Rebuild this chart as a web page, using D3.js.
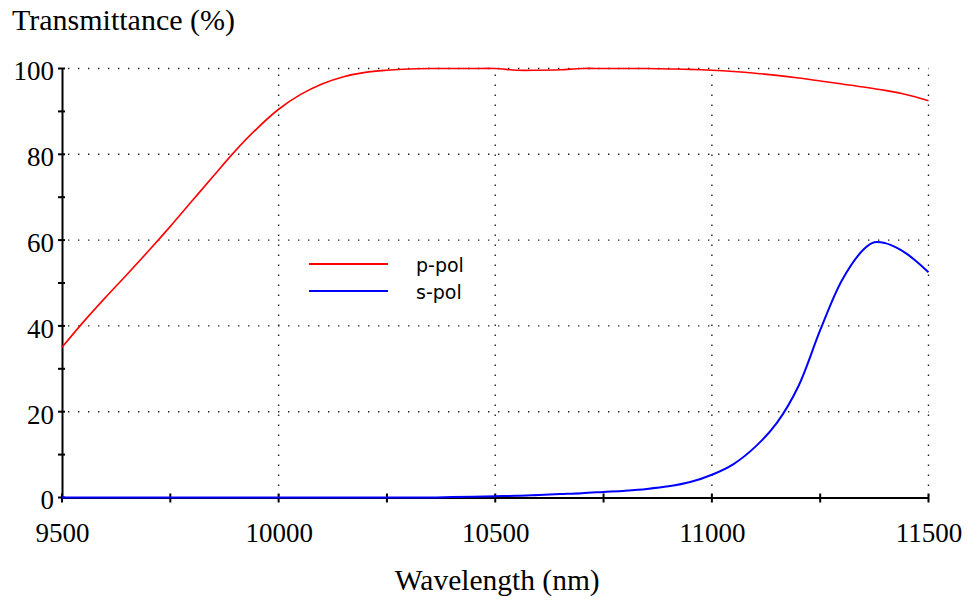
<!DOCTYPE html>
<html><head><meta charset="utf-8">
<script src="https://cdn.jsdelivr.net/npm/d3@7"></script>
<style>
html,body{margin:0;padding:0;background:#fff;}
svg{display:block;}
</style></head>
<body><svg id="c" width="971" height="601"></svg>
<script>
// ---- data ----
const pWavelengths = [9500,9550,9600,9650,9700,9750,9800,9850,9900,9950,10000,10050,10100,10150,10200,10250,10300,10350,10400,10450,10500,10550,10600,10650,10700,10750,10800,10850,10900,10950,11000,11050,11100,11150,11200,11250,11300,11350,11400,11450,11500];
const pPol = [35.0,41.0,46.6,52.0,57.5,63.2,69.1,75.0,80.8,86.0,90.5,93.9,96.4,98.1,99.1,99.6,99.9,100,100,100,100,99.6,99.6,99.7,100,100,100,100,99.9,99.8,99.6,99.3,98.9,98.4,97.8,97.1,96.4,95.7,94.9,93.9,92.5];
const sWavelengths = [9500,9600,9700,9800,9900,10000,10100,10200,10300,10350,10400,10450,10500,10550,10600,10650,10700,10750,10800,10850,10900,10950,11000,11050,11100,11150,11200,11250,11300,11350,11375,11400,11425,11450,11475,11500];
const sPol = [0,0,0,0,0,0,0,0,0,0,0.1,0.2,0.3,0.4,0.6,0.8,1.0,1.3,1.6,2.0,2.6,3.6,5.3,7.8,11.8,17.4,26.0,39.0,50.6,57.8,59.5,59.3,58.3,56.8,54.8,52.5];
const xTicks = [9500,10000,10500,11000,11500];
const xMinor = [9750,10250,10750,11250];
const yTicks = [0,20,40,60,80,100];
const yMinor = [10,30,50,70,90];
const seriesNames = ["p-pol","s-pol"];
const seriesColors = ["#ff0000","#0000ff"];

// ---- layout ----
const svg = d3.select("#c");
const x = d3.scaleLinear().domain([9500,11500]).range([62,928.5]);
const y = d3.scaleLinear().domain([0,100]).range([497.5,68.5]);

// grid
const grid = svg.append("g").attr("stroke","#222").attr("stroke-width",1.4).attr("stroke-dasharray","1.4,8.6");
yTicks.filter(d=>d>0).forEach(d=>{
  grid.append("line").attr("x1",x(9500)+6).attr("x2",x(11500)).attr("y1",y(d)).attr("y2",y(d));
});
xTicks.filter(d=>d>9500).forEach(d=>{
  grid.append("line").attr("x1",x(d)).attr("x2",x(d)).attr("y1",y(100)+6).attr("y2",y(0));
});

// axes
const yAxis = d3.axisLeft(y).tickValues(yTicks).tickSize(0).tickFormat(d3.format("d"));
const gy = svg.append("g").attr("transform",`translate(${x(9500)},0)`).call(yAxis);
gy.select(".domain").attr("stroke","#000").attr("stroke-width",2);
gy.selectAll("text").attr("x",-8).attr("dy","0.42em")
  .style("font-family","'Liberation Serif','Times New Roman',serif").style("font-size","27px").attr("fill","#000");
svg.append("g").selectAll("line").data(yTicks.concat(yMinor)).join("line")
  .attr("x1",x(9500)-4).attr("x2",x(9500)+3).attr("y1",d=>y(d)).attr("y2",d=>y(d))
  .attr("stroke","#000").attr("stroke-width",2);

const xAxis = d3.axisBottom(x).tickValues(xTicks).tickSize(0).tickFormat(d3.format("d"));
const gx = svg.append("g").attr("transform",`translate(0,${y(0)})`).call(xAxis);
gx.select(".domain").attr("stroke","#000").attr("stroke-width",2);
gx.selectAll("text").attr("y",44).attr("dy",0)
  .style("font-family","'Liberation Serif','Times New Roman',serif").style("font-size","27px").attr("fill","#000");
svg.append("g").selectAll("line").data(xTicks.concat(xMinor)).join("line")
  .attr("x1",d=>x(d)).attr("x2",d=>x(d)).attr("y1",y(0)-4).attr("y2",y(0)+5)
  .attr("stroke","#000").attr("stroke-width",2);

// lines
const line = d3.line().x(d=>x(d[0])).y(d=>y(d[1])).curve(d3.curveCatmullRom.alpha(0.5));
svg.append("path").datum(pWavelengths.map((w,i)=>[w,pPol[i]]))
  .attr("d",line).attr("fill","none").attr("stroke",seriesColors[0]).attr("stroke-width",1.6);
svg.append("path").datum(sWavelengths.map((w,i)=>[w,sPol[i]]))
  .attr("d",line).attr("fill","none").attr("stroke",seriesColors[1]).attr("stroke-width",2);

// legend
const lg = svg.append("g");
seriesNames.forEach((n,i)=>{
  const yy = 264 + i*27;
  lg.append("line").attr("x1",309).attr("x2",388).attr("y1",yy).attr("y2",yy)
    .attr("stroke",seriesColors[i]).attr("stroke-width",2);
  lg.append("text").attr("x",416).attr("y",yy+8).text(n)
    .style("font-family","'DejaVu Sans',Verdana,sans-serif").style("font-size","19px").attr("fill","#000");
});

// titles
svg.append("text").attr("x",12).attr("y",29.5).text("Transmittance (%)")
  .style("font-family","'Liberation Serif','Times New Roman',serif").style("font-size","30px").attr("fill","#000");
svg.append("text").attr("x",(x(9500)+x(11500))/2+2).attr("y",590).attr("text-anchor","middle").text("Wavelength (nm)")
  .style("font-family","'Liberation Serif','Times New Roman',serif").style("font-size","29.5px").attr("fill","#000");
</script>
</body></html>
